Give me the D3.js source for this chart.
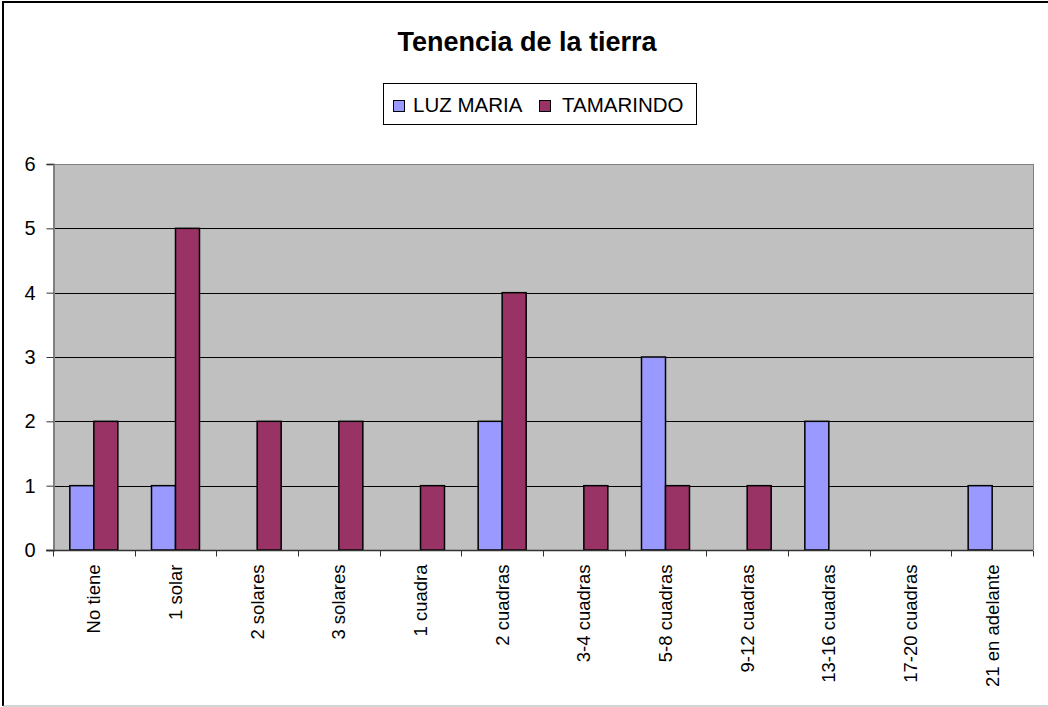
<!DOCTYPE html>
<html>
<head>
<meta charset="utf-8">
<script src="https://cdn.jsdelivr.net/npm/d3@7"></script>
<style>
  body { margin: 0; background: #fff; }
  svg { display: block; font-family: "Liberation Sans", Arial, sans-serif; }
</style>
</head>
<body>
<svg id="chart" width="1048" height="707"></svg>
<script>
// data
var categories = ["No tiene", "1 solar", "2 solares", "3 solares", "1 cuadra", "2 cuadras",
                  "3-4 cuadras", "5-8 cuadras", "9-12 cuadras", "13-16 cuadras", "17-20 cuadras", "21 en adelante"];
var seriesNames = ["LUZ MARIA", "TAMARINDO"];
var luzMaria  = [1, 1, 0, 0, 0, 2, 0, 3, 0, 2, 0, 1];
var tamarindo = [2, 5, 2, 2, 1, 4, 1, 1, 1, 0, 0, 0];
var yTicks = [0, 1, 2, 3, 4, 5, 6];
var colors = ["#9999FF", "#993366"];

var svg = d3.select("#chart");

// outer frame (right edge is off the canvas)
svg.append("line").attr("x1", 3).attr("x2", 3).attr("y1", 2).attr("y2", 706)
  .attr("stroke", "#000").attr("stroke-width", 2);
svg.append("line").attr("x1", 2).attr("x2", 1048).attr("y1", 2).attr("y2", 2)
  .attr("stroke", "#000").attr("stroke-width", 2);
svg.append("line").attr("x1", 3).attr("x2", 1048).attr("y1", 706).attr("y2", 706)
  .attr("stroke", "#aaa").attr("stroke-width", 1);

var plot = { left: 53, top: 164, right: 1033, bottom: 550 };

var x0 = d3.scaleBand().domain(categories).range([plot.left, plot.right]).paddingInner(0).paddingOuter(0);
var x1 = d3.scaleBand().domain(seriesNames).range([0, 48]);
var y = d3.scaleLinear().domain([0, 6]).range([plot.bottom, plot.top]);

// title
svg.append("text").attr("x", 527).attr("y", 51)
  .attr("text-anchor", "middle").attr("font-size", 27).attr("font-weight", "bold")
  .text("Tenencia de la tierra");

// legend
var lg = svg.append("g");
lg.append("rect").attr("x", 383.5).attr("y", 83.5).attr("width", 313).attr("height", 41)
  .attr("fill", "#fff").attr("stroke", "#000");
var legendItems = [{ name: seriesNames[0], mx: 393, tx: 413 }, { name: seriesNames[1], mx: 539, tx: 562 }];
legendItems.forEach(function(d, i) {
  lg.append("rect").attr("x", d.mx + 0.5).attr("y", 100.5).attr("width", 11).attr("height", 11)
    .attr("fill", colors[i]).attr("stroke", "#000");
  lg.append("text").attr("x", d.tx).attr("y", 112).attr("font-size", 20.5).text(d.name);
});

// plot area
svg.append("rect").attr("x", plot.left).attr("y", plot.top)
  .attr("width", plot.right - plot.left).attr("height", plot.bottom - plot.top)
  .attr("fill", "#C0C0C0");

// gridlines
svg.append("g").selectAll("line").data(yTicks.slice(1)).enter().append("line")
  .attr("x1", plot.left).attr("x2", plot.right)
  .attr("y1", function(d) { return Math.round(y(d)) + 0.5; })
  .attr("y2", function(d) { return Math.round(y(d)) + 0.5; })
  .attr("stroke", function(d) { return d === 6 ? "#808080" : "#000"; });

// right edge of plot
svg.append("line").attr("x1", plot.right + 0.5).attr("x2", plot.right + 0.5)
  .attr("y1", plot.top).attr("y2", plot.bottom).attr("stroke", "#808080");

// bars
var rows = categories.map(function(c, i) { return { cat: c, vals: [luzMaria[i], tamarindo[i]] }; });
var groups = svg.append("g").selectAll("g").data(rows).enter().append("g")
  .attr("transform", function(d) { return "translate(" + (x0(d.cat) + (x0.bandwidth() - 48) / 2) + ",0)"; });
groups.selectAll("rect")
  .data(function(d) { return d.vals.map(function(v, i) { return { s: seriesNames[i], v: v, i: i }; }).filter(function(e) { return e.v > 0; }); })
  .enter().append("rect")
  .attr("x", function(d) { return x1(d.s); })
  .attr("y", function(d) { return y(d.v); })
  .attr("width", x1.bandwidth())
  .attr("height", function(d) { return y(0) - y(d.v); })
  .attr("fill", function(d) { return colors[d.i]; })
  .attr("stroke", "#000").attr("stroke-width", 1.5);

// y axis
var yAxis = svg.append("g").attr("transform", "translate(" + (plot.left + 0.5) + ",0)")
  .call(d3.axisLeft(y).tickValues(yTicks).tickSize(7).tickPadding(11).tickFormat(d3.format("d")));
yAxis.attr("font-size", null).attr("font-family", null);
yAxis.select(".domain").attr("stroke", "#808080").attr("stroke-width", 2);
yAxis.selectAll(".tick line").attr("stroke", "#333");
yAxis.selectAll(".tick text").style("font-size", "20px").attr("fill", "#000");

// x axis: ticks at category boundaries
var xAxis = svg.append("g").attr("transform", "translate(0," + (plot.bottom + 0.5) + ")");
xAxis.append("line").attr("x1", plot.left - 7).attr("x2", plot.right).attr("y1", 0).attr("y2", 0)
  .attr("stroke", "#333").attr("stroke-width", 1.5);
var bounds = categories.map(function(c) { return x0(c); }).concat([plot.right]);
xAxis.selectAll("line.tk").data(bounds).enter().append("line").attr("class", "tk")
  .attr("x1", function(d) { return Math.round(d) + 0.5; })
  .attr("x2", function(d) { return Math.round(d) + 0.5; })
  .attr("y1", 0).attr("y2", 6).attr("stroke", "#333");
xAxis.selectAll("text").data(categories).enter().append("text")
  .attr("transform", function(d) { return "translate(" + (x0(d) + x0.bandwidth() / 2 + 6.5) + ",14) rotate(-90)"; })
  .attr("text-anchor", "end").attr("font-size", 18.5)
  .text(function(d) { return d; });
</script>
</body>
</html>
